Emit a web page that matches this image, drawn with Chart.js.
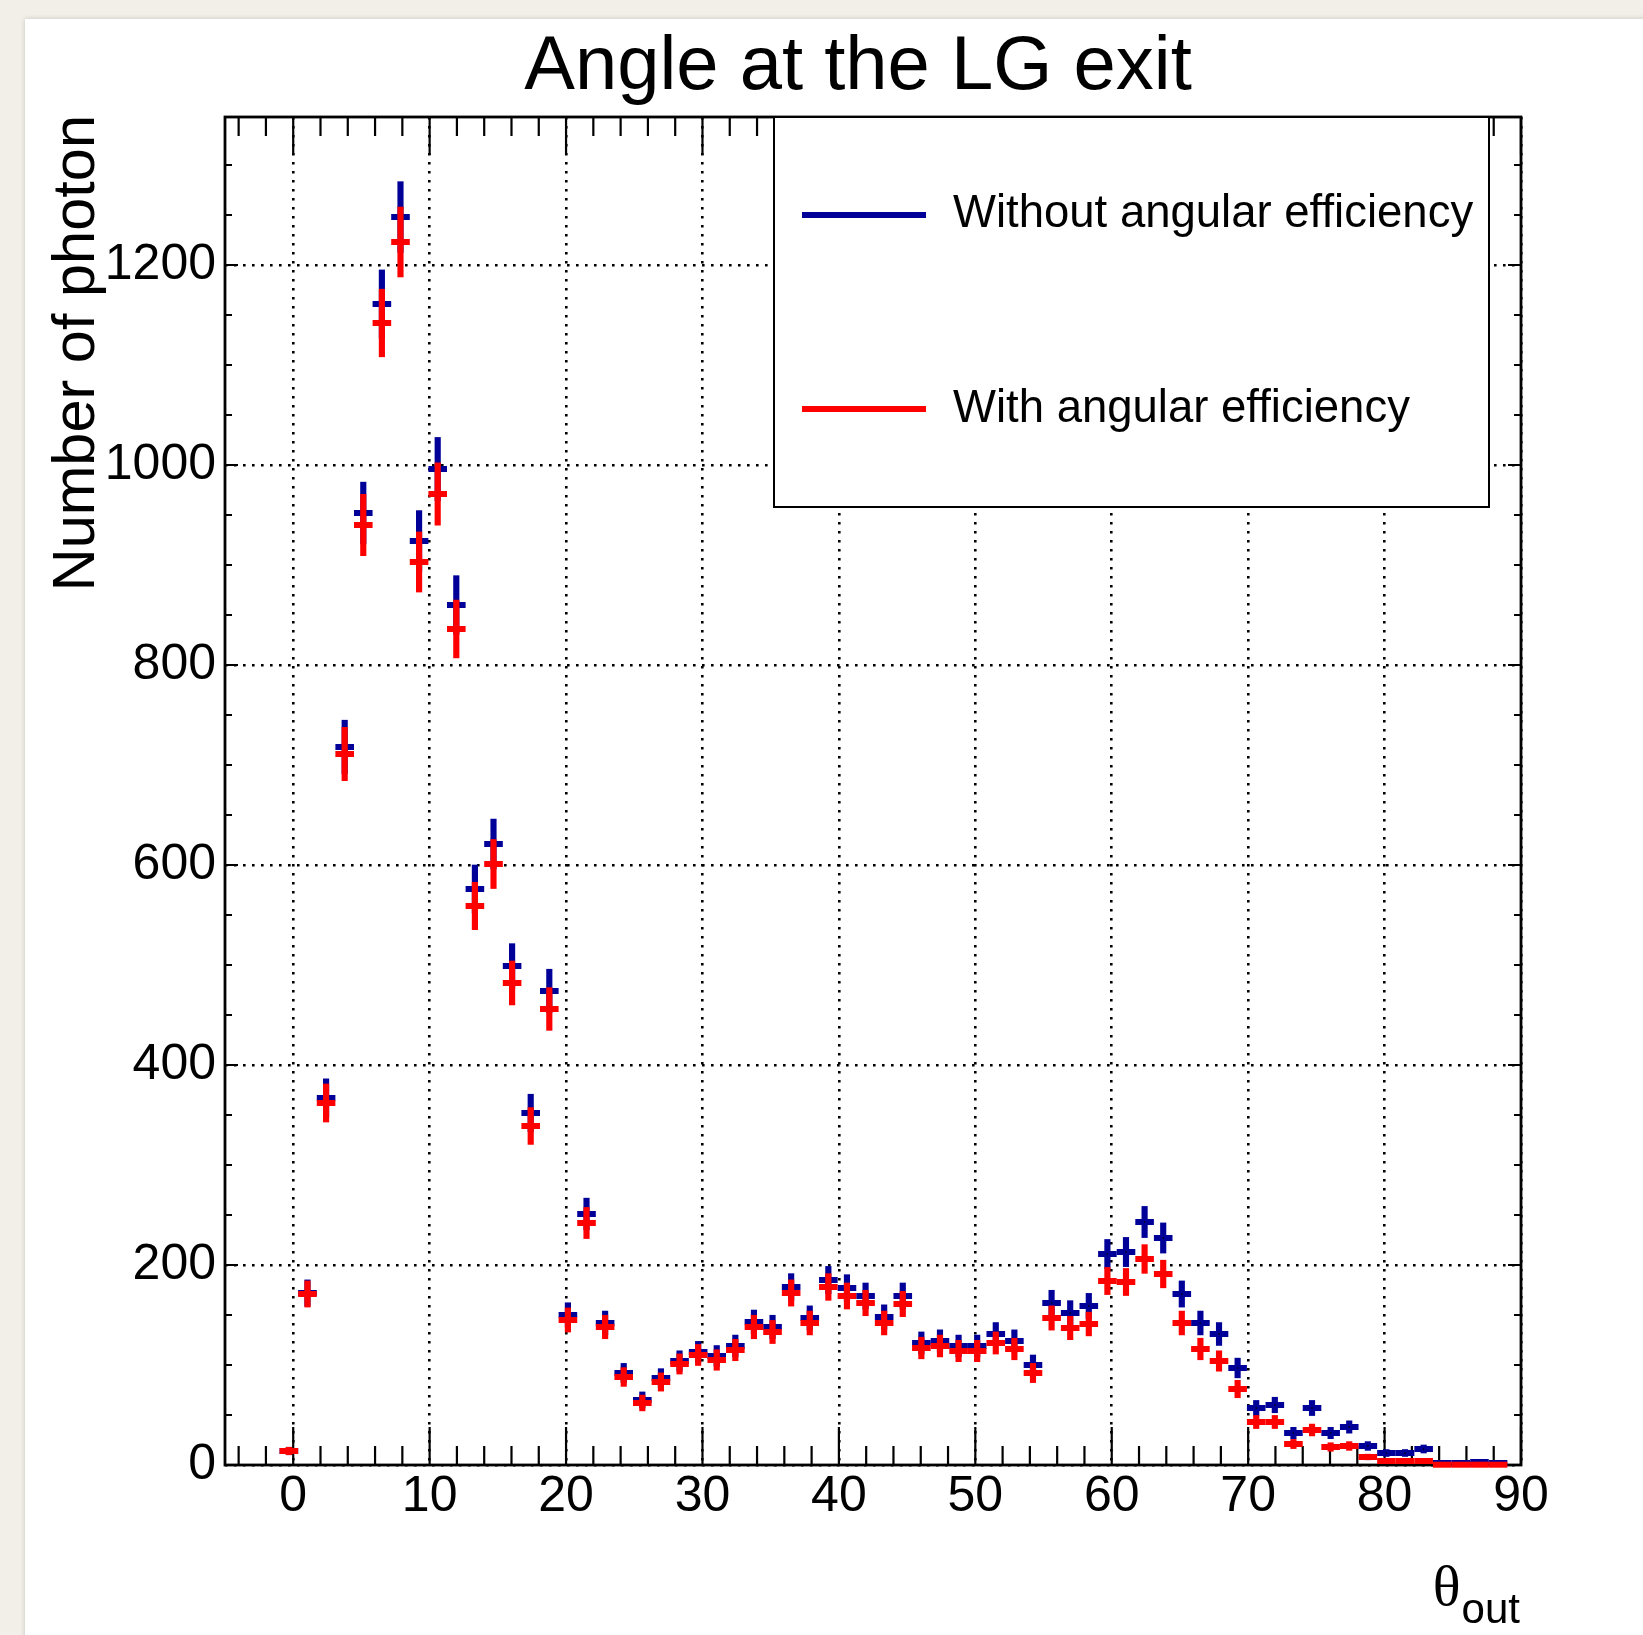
<!DOCTYPE html>
<html>
<head>
<meta charset="utf-8">
<title>Angle at the LG exit</title>
<script src="https://cdn.jsdelivr.net/npm/chart.js@4.4.1/dist/chart.umd.min.js"></script>
<style>
  html, body { margin: 0; padding: 0; background: #f2efe9; }
  canvas { display: block; }
</style>
</head>
<body>
<canvas id="angleChart" width="1643" height="1635"></canvas>
<script>
// Bin centres of the θ_out histogram (degrees)
const binCenters = [
  -0.318, 1.045, 2.409, 3.773, 5.136, 6.500, 7.864, 9.227, 10.591, 11.955,
  13.318, 14.682, 16.045, 17.409, 18.773, 20.136, 21.500, 22.864, 24.227, 25.591,
  26.955, 28.318, 29.682, 31.045, 32.409, 33.773, 35.136, 36.500, 37.864, 39.227,
  40.591, 41.955, 43.318, 44.682, 46.045, 47.409, 48.773, 50.136, 51.500, 52.864,
  54.227, 55.591, 56.955, 58.318, 59.682, 61.045, 62.409, 63.773, 65.136, 66.500,
  67.864, 69.227, 70.591, 71.955, 73.318, 74.682, 76.045, 77.409, 78.773, 80.136,
  81.500, 82.864, 84.227, 85.591, 86.955, 88.318
];
const binWidth = 90 / 66;

// Photon counts per bin
const countsWithout = [
  14, 172, 367, 718, 952, 1161, 1248, 924, 996, 860,
  576, 621, 499, 352, 474, 150, 251, 142, 92, 65,
  87, 104, 113, 109, 119, 143, 138, 178, 147, 185,
  177, 169, 148, 169, 122, 124, 119, 119, 131, 124,
  100, 162, 152, 159, 211, 213, 243, 227, 171, 142,
  131, 97, 57, 60, 32, 57, 32, 38, 19, 12,
  12, 16, 2, 2, 3, 2
];
const countsWith = [
  14, 171, 362, 711, 940, 1142, 1223, 903, 971, 836,
  559, 601, 482, 339, 456, 145, 242, 138, 88, 62,
  83, 101, 110, 105, 115, 138, 133, 172, 142, 178,
  169, 162, 142, 161, 117, 119, 114, 114, 122, 116,
  92, 147, 137, 141, 184, 183, 206, 191, 142, 116,
  104, 76, 43, 43, 21, 35, 18, 19, 8, 4,
  4, 4, 0.3, 0.3, 0.3, 0.3
];

const seriesLabels = ['Without angular efficiency', 'With angular efficiency'];
const xTickValues = [0, 10, 20, 30, 40, 50, 60, 70, 80, 90];
const yTickValues = [0, 200, 400, 600, 800, 1000, 1200];
const xMinorStep = 2;
const yMinorStep = 50;
const xRange = [-5, 90];
const yRange = [0, 1348];

const BLUE = '#000099';
const RED = '#ff0000';
const SANS = "'Liberation Sans', Arial, Helvetica, sans-serif";
const SERIF = "'Liberation Serif', 'DejaVu Serif', serif";

// Poisson uncertainty of a bin count
const poisson = v => Math.sqrt(v);

const centrePoints = counts => binCenters.map((c, i) => ({ x: c, y: counts[i] }));
const errorRanges = counts => binCenters.map((c, i) => ({
  x: c, y: [counts[i] - poisson(counts[i]), counts[i] + poisson(counts[i])]
}));
// half a bin, in pixels, for the horizontal arm of each cross
const halfBinPx = ctx => {
  const xs = ctx.chart.scales.x;
  return Math.abs(xs.getPixelForValue(binWidth / 2) - xs.getPixelForValue(0));
};

const crossWidth = 6;

function horizontalArm(label, counts, color, order) {
  return {
    type: 'scatter', label, data: centrePoints(counts), order,
    showLine: false, pointStyle: 'line',
    pointRadius: halfBinPx, pointHoverRadius: halfBinPx,
    pointBorderWidth: crossWidth, pointBorderColor: color, pointBackgroundColor: color,
    clip: false
  };
}
function verticalArm(counts, color, order) {
  return {
    type: 'bar', data: errorRanges(counts), order,
    backgroundColor: color, borderWidth: 0, barThickness: crossWidth - 0.5,
    grouped: false, clip: false
  };
}

// page background with the white sheet
const sheetPlugin = {
  id: 'sheet',
  beforeDraw(chart) {
    const ctx = chart.ctx;
    ctx.save();
    ctx.fillStyle = '#f2efe9';
    ctx.fillRect(0, 0, chart.width, chart.height);
    ctx.shadowColor = 'rgba(0,0,0,0.18)';
    ctx.shadowBlur = 5;
    ctx.fillStyle = '#ffffff';
    ctx.fillRect(25, 19, chart.width, chart.height);
    ctx.restore();
  }
};

// frame with inward ticks on all four sides
const framePlugin = {
  id: 'frame',
  beforeDatasetsDraw(chart) {
    const { ctx, chartArea: a, scales: { x, y } } = chart;
    ctx.save();
    ctx.strokeStyle = '#000';
    ctx.lineWidth = 2.2;
    ctx.beginPath();
    const xMajor = 38, xMinor = 19, yMajor = 13, yMinor = 7;
    for (let v = xRange[0] + 1; v <= xRange[1]; v += xMinorStep) {
      const major = xTickValues.includes(v);
      const px = x.getPixelForValue(v);
      const len = major ? xMajor : xMinor;
      ctx.moveTo(px, a.bottom); ctx.lineTo(px, a.bottom - len);
      ctx.moveTo(px, a.top); ctx.lineTo(px, a.top + len);
    }
    for (let v = yRange[0]; v <= yRange[1]; v += yMinorStep) {
      const major = yTickValues.includes(v);
      const py = y.getPixelForValue(v);
      const len = major ? yMajor : yMinor;
      ctx.moveTo(a.left, py); ctx.lineTo(a.left + len, py);
      ctx.moveTo(a.right, py); ctx.lineTo(a.right - len, py);
    }
    ctx.stroke();
    ctx.lineWidth = 2.8;
    ctx.strokeRect(a.left, a.top, a.right - a.left, a.bottom - a.top);
    ctx.restore();
  }
};

// title, axis titles and legend box
const textPlugin = {
  id: 'texts',
  afterDraw(chart) {
    const { ctx, chartArea: a } = chart;
    ctx.save();
    ctx.fillStyle = '#000';

    ctx.font = `76px ${SANS}`;
    ctx.textAlign = 'center';
    ctx.textBaseline = 'alphabetic';
    ctx.fillText('Angle at the LG exit', 858, 89);

    // y title, reading upwards, ending at the top of the frame
    ctx.save();
    ctx.translate(94, a.top - 2);
    ctx.rotate(-Math.PI / 2);
    ctx.font = `59.5px ${SANS}`;
    ctx.textAlign = 'right';
    ctx.fillText('Number of photon', 0, 0);
    ctx.restore();

    // x title θ_out, right aligned on the frame
    ctx.textAlign = 'right';
    ctx.font = `42px ${SANS}`;
    const sub = 'out';
    const subRight = a.right - 1;
    ctx.fillText(sub, subRight, 1623);
    const subW = ctx.measureText(sub).width;
    ctx.font = `58px ${SERIF}`;
    ctx.fillText('θ', subRight - subW - 1, 1605);

    // legend
    const box = { l: 774, t: a.top, r: 1489, b: 507 };
    ctx.fillStyle = '#fff';
    ctx.fillRect(box.l, box.t, box.r - box.l, box.b - box.t);
    ctx.strokeStyle = '#000';
    ctx.lineWidth = 2;
    ctx.strokeRect(box.l, box.t, box.r - box.l, box.b - box.t);
    const entries = chart.data.datasets
      .filter(d => d.label)
      .sort((p, q) => seriesLabels.indexOf(p.label) - seriesLabels.indexOf(q.label));
    const rows = [{ line: 215, base: 227 }, { line: 409, base: 422 }];
    entries.forEach((d, i) => {
      ctx.strokeStyle = d.pointBorderColor;
      ctx.lineWidth = 6;
      ctx.beginPath();
      ctx.moveTo(802, rows[i].line);
      ctx.lineTo(926, rows[i].line);
      ctx.stroke();
      ctx.fillStyle = '#000';
      ctx.font = `45.5px ${SANS}`;
      ctx.textAlign = 'left';
      ctx.fillText(d.label, 953, rows[i].base);
    });
    ctx.restore();
  }
};

Chart.defaults.font.family = SANS;
Chart.defaults.color = '#000';

new Chart(document.getElementById('angleChart'), {
  type: 'scatter',
  data: {
    datasets: [
      horizontalArm(seriesLabels[1], countsWith, RED, 0),
      verticalArm(countsWith, RED, 1),
      {
        type: 'scatter', data: centrePoints(countsWithout), order: 2,
        pointStyle: 'rect', pointRadius: 0.9, pointHoverRadius: 0.9,
        pointBackgroundColor: '#000', pointBorderWidth: 0
      },
      horizontalArm(seriesLabels[0], countsWithout, BLUE, 3),
      verticalArm(countsWithout, BLUE, 4)
    ]
  },
  options: {
    responsive: false,
    animation: false,
    events: [],
    layout: { padding: { left: 105, right: 122, top: 117, bottom: 70 } },
    plugins: { legend: { display: false }, title: { display: false }, tooltip: { enabled: false } },
    scales: {
      x: {
        type: 'linear', min: xRange[0], max: xRange[1], offset: false,
        afterBuildTicks: s => { s.ticks = xTickValues.map(v => ({ value: v })); },
        afterFit: s => { s.height = 100; },
        grid: { color: '#000', lineWidth: 2.6, drawTicks: false, offset: false },
        border: { display: false, dash: [2.6, 6.4] },
        ticks: {
          font: { size: 50, lineHeight: 1 }, color: '#000', padding: 7,
          maxRotation: 0, autoSkip: false, callback: v => String(v)
        }
      },
      y: {
        type: 'linear', min: yRange[0], max: yRange[1],
        afterBuildTicks: s => { s.ticks = yTickValues.map(v => ({ value: v })); },
        afterFit: s => { s.width = 120; },
        grid: { color: '#000', lineWidth: 2.6, drawTicks: false },
        border: { display: false, dash: [2.6, 6.4] },
        ticks: {
          font: { size: 50 }, color: '#000', padding: 9,
          autoSkip: false, callback: v => String(v)
        }
      }
    }
  },
  plugins: [sheetPlugin, framePlugin, textPlugin]
});
</script>
</body>
</html>
